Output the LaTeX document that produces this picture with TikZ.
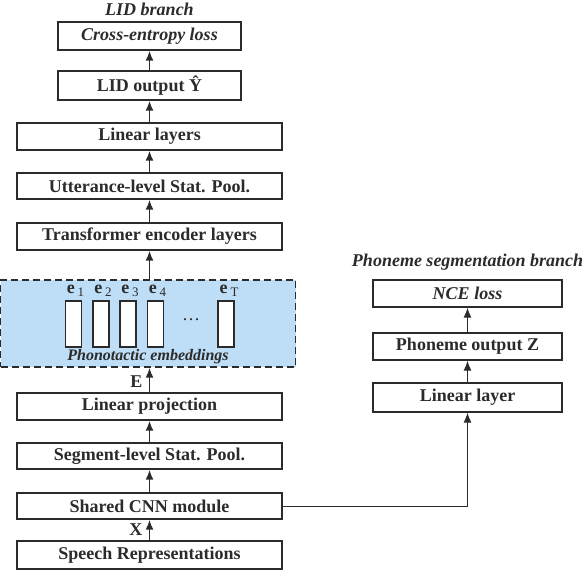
\documentclass[tikz,border=0pt]{standalone}
\usepackage{fontspec}
\setmainfont{Liberation Serif}
\usetikzlibrary{arrows.meta}
\definecolor{inkgray}{HTML}{2B2B2B}
\definecolor{embblue}{HTML}{BEDDF6}
\begin{document}
\begin{tikzpicture}[x=1pt,y=-1pt,
    font=\fontsize{18}{21}\selectfont\bfseries,
    box/.style={draw=inkgray, line width=1.4pt, text=inkgray, inner sep=0pt, minimum height=27pt},
    widebox/.style={box, minimum width=265pt},
    smallbox/.style={box, minimum width=183pt},
    rightbox/.style={box, minimum width=189pt},
    uparrow/.style={draw=inkgray, line width=1.6pt, -{Latex[length=10pt,width=8pt]}},
    thinarrow/.style={draw=inkgray, line width=1pt, -{Latex[length=10pt,width=8pt]}}]

\useasboundingbox (0,0) rectangle (588,570);

% LID branch
\node[text=inkgray] (lidtitle) at (149.5,9) {\itshape LID branch};
\node[smallbox, minimum height=28pt] (celoss) at (149.5,36) {\itshape Cross-entropy loss};
\node[smallbox, minimum height=29pt] (lidout) at (149.5,85.5) {LID output Ŷ};
\node[widebox] (linlayers) at (149.5,136.5) {Linear layers};
\node[widebox, minimum height=26pt] (uttpool) at (149.5,186) {Utterance-level Stat. Pool.};
\node[widebox] (encoder) at (149.5,236.5) {Transformer encoder layers};

% phonotactic embeddings
\node[draw=inkgray, fill=embblue, dash pattern=on 7pt off 4pt, line width=1.4pt, minimum width=295pt, minimum height=87pt] (embed) at (148,323.5) {};
\foreach \x/\lab in {73.5/1, 101/2, 128/3, 155.5/4} {
    \draw[inkgray, line width=1.2pt, fill=white] (\x-8,301) rectangle (\x+8,347);
    \node[text=inkgray] (e\lab) at (\x+2,291) {e\,\raisebox{-0.3ex}{\mdseries\fontsize{13}{13}\selectfont\lab}};
}
\draw[inkgray, line width=1.2pt, fill=white] (218,301) rectangle (234,347);
\node[text=inkgray] (eT) at (229,291) {e\,\raisebox{-0.3ex}{\mdseries\fontsize{13}{13}\selectfont T}};
\node[text=inkgray] (edots) at (191,320) {\mdseries\dots};
\node[text=inkgray, font=\fontsize{16}{19}\selectfont\bfseries] (embname) at (148,357) {\itshape Phonotactic embeddings};

\node[widebox] (proj) at (149.5,406.5) {Linear projection};
\node[widebox, minimum height=26pt] (segpool) at (149.5,456) {Segment-level Stat. Pool.};
\node[widebox, minimum height=26pt] (cnn) at (149.5,506) {Shared CNN module};
\node[widebox, minimum height=28pt] (speech) at (149.5,555) {Speech Representations};

% Phoneme segmentation branch
\node[text=inkgray] (phontitle) at (467.5,262) {\itshape Phoneme segmentation branch};
\node[rightbox] (nce) at (467.5,293.5) {\itshape NCE loss};
\node[rightbox] (phonout) at (467.5,346.5) {Phoneme output Z};
\node[rightbox, minimum height=29pt] (linlayer) at (467.5,397.5) {Linear layer};

% connectors
\draw[uparrow] (lidout) -- (celoss);
\draw[uparrow] (linlayers) -- (lidout);
\draw[uparrow] (uttpool) -- (linlayers);
\draw[uparrow] (encoder) -- (uttpool);
\draw[uparrow] (embed.north -| encoder) -- (encoder);
\draw[uparrow] (proj.north) -- (proj.north |- embed.south) node[pos=0.45,left=3pt,text=inkgray] (elab) {E};
\draw[uparrow] (segpool) -- (proj);
\draw[uparrow] (cnn) -- (segpool);
\draw[uparrow] (speech) -- (cnn) node[midway,left=3pt,text=inkgray] (xlab) {X};
\draw[thinarrow] (cnn.east) -| (linlayer.south);
\draw[thinarrow] (linlayer) -- (phonout);
\draw[thinarrow] (phonout) -- (nce);

\end{tikzpicture}
\end{document}
